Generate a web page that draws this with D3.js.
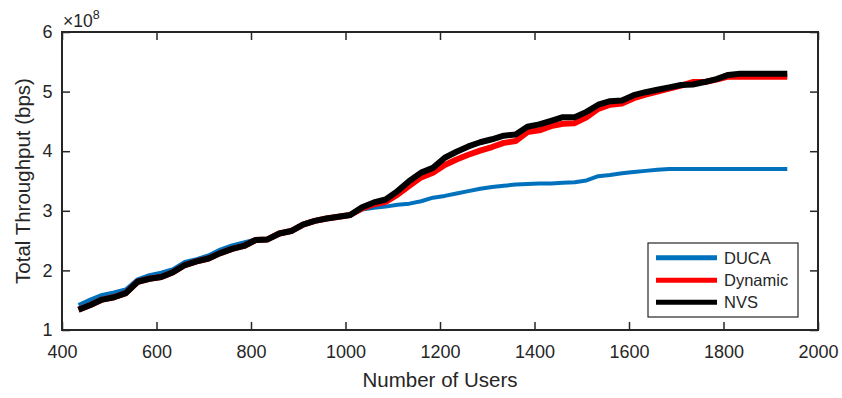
<!DOCTYPE html>
<html>
<head>
<meta charset="utf-8">
<script src="https://cdn.jsdelivr.net/npm/d3@7"></script>
<style>
  html, body { margin: 0; padding: 0; background: #fff; }
  svg { display: block; font-family: "Liberation Sans", Arial, Helvetica, sans-serif; }
</style>
</head>
<body>
<svg id="chart" width="842" height="398"></svg>
<script>
// Number of users (x axis)
const users = [435,460,485,510,535,560,585,610,635,660,685,710,735,760,785,810,835,860,885,910,
  935,960,985,1010,1035,1060,1085,1110,1135,1160,1185,1210,1235,1260,1285,1310,1335,1360,1385,1410,
  1435,1460,1485,1510,1535,1560,1585,1610,1635,1660,1685,1710,1735,1760,1785,1810,1835,1860,1885,1910,1935];

// Total throughput, in units of 1e8 bps
const duca = [1.42,1.51,1.59,1.63,1.68,1.85,1.92,1.96,2.02,2.14,2.19,2.25,2.35,2.42,2.47,2.52,2.53,2.62,2.67,2.77,
  2.83,2.87,2.90,2.93,3.02,3.05,3.07,3.10,3.12,3.16,3.22,3.25,3.29,3.33,3.37,3.40,3.42,3.44,3.45,3.46,
  3.46,3.47,3.48,3.51,3.58,3.60,3.63,3.65,3.67,3.69,3.70,3.70,3.70,3.70,3.70,3.70,3.70,3.70,3.70,3.70,3.70];

const dynamic = [1.34,1.42,1.51,1.55,1.62,1.81,1.86,1.89,1.97,2.09,2.15,2.20,2.29,2.36,2.41,2.51,2.52,2.62,2.66,2.77,
  2.83,2.87,2.90,2.93,3.04,3.11,3.15,3.27,3.42,3.56,3.64,3.77,3.86,3.94,4.01,4.07,4.14,4.17,4.32,4.35,
  4.42,4.46,4.47,4.57,4.71,4.78,4.80,4.89,4.95,5.00,5.05,5.10,5.16,5.16,5.20,5.25,5.25,5.25,5.25,5.25,5.25];

const nvs = [1.34,1.42,1.51,1.55,1.62,1.81,1.86,1.89,1.97,2.09,2.15,2.20,2.29,2.36,2.41,2.51,2.52,2.62,2.66,2.77,
  2.83,2.87,2.90,2.93,3.06,3.14,3.19,3.33,3.50,3.64,3.72,3.89,3.99,4.08,4.15,4.20,4.26,4.28,4.41,4.45,
  4.51,4.57,4.57,4.66,4.78,4.84,4.85,4.94,4.99,5.03,5.07,5.11,5.12,5.16,5.21,5.28,5.30,5.30,5.30,5.30,5.30];

const seriesNames = ["DUCA", "Dynamic", "NVS"];
const xTicks = [400, 600, 800, 1000, 1200, 1400, 1600, 1800, 2000];
const yTicks = [1, 2, 3, 4, 5, 6];

const colors = { DUCA: "#0072BD", Dynamic: "#FF0000", NVS: "#000000" };
const widths = { DUCA: 4, Dynamic: 6, NVS: 6 };
const ink = "#262626";

const svg = d3.select("#chart");
const plotLeft = 62, plotRight = 818, plotTop = 32, plotBottom = 330;

const x = d3.scaleLinear().domain([400, 2000]).range([plotLeft, plotRight]);
const y = d3.scaleLinear().domain([1, 6]).range([plotBottom, plotTop]);

const series = [
  { name: "DUCA", values: duca },
  { name: "Dynamic", values: dynamic },
  { name: "NVS", values: nvs }
];

const line = d3.line()
  .x((d, i) => x(users[i]))
  .y(d => y(d));

// Data lines
const plot = svg.append("g");
series.forEach(s => {
  plot.append("path")
    .datum(s.values)
    .attr("fill", "none")
    .attr("stroke", colors[s.name])
    .attr("stroke-width", widths[s.name])
    .attr("stroke-linejoin", "round")
    .attr("d", line);
});

// Axes (box with inward ticks on all sides)
const tickLen = 8;
const fontTick = 18;
const fmt = d3.format("d");

const xAxis = d3.axisBottom(x).tickValues(xTicks).tickSizeInner(-tickLen).tickSizeOuter(0).tickPadding(15).tickFormat(fmt);
const xAxisTop = d3.axisTop(x).tickValues(xTicks).tickSizeInner(-tickLen).tickSizeOuter(0).tickFormat("");
const yAxis = d3.axisLeft(y).tickValues(yTicks).tickSizeInner(-tickLen).tickSizeOuter(0).tickPadding(9.5).tickFormat(fmt);
const yAxisRight = d3.axisRight(y).tickValues(yTicks).tickSizeInner(-tickLen).tickSizeOuter(0).tickFormat("");

function styleAxis(g) {
  g.select(".domain").remove();
  g.selectAll(".tick line").attr("stroke", ink).attr("stroke-width", 1.5);
  g.selectAll(".tick text").attr("fill", ink).style("font-size", fontTick + "px")
    .style("font-family", "'Liberation Sans', Arial, sans-serif");
}

svg.append("g").attr("transform", `translate(0,${plotBottom})`).call(xAxis).call(styleAxis);
svg.append("g").attr("transform", `translate(0,${plotTop})`).call(xAxisTop).call(styleAxis);
svg.append("g").attr("transform", `translate(${plotLeft},0)`).call(yAxis).call(styleAxis);
svg.append("g").attr("transform", `translate(${plotRight},0)`).call(yAxisRight).call(styleAxis);

// Frame
svg.append("rect")
  .attr("x", plotLeft).attr("y", plotTop)
  .attr("width", plotRight - plotLeft).attr("height", plotBottom - plotTop)
  .attr("fill", "none").attr("stroke", ink).attr("stroke-width", 2);

// Exponent label
const expo = svg.append("text")
  .attr("x", plotLeft + 1).attr("y", 26.5)
  .attr("fill", ink).style("font-size", "17.5px");
expo.append("tspan").text("\u00d710");
expo.append("tspan").attr("dy", -8).style("font-size", "12.5px").text("8");

// Axis titles
svg.append("text")
  .attr("x", (plotLeft + plotRight) / 2).attr("y", 387)
  .attr("text-anchor", "middle").attr("fill", ink)
  .style("font-size", "20.5px").text("Number of Users");

svg.append("text")
  .attr("transform", `translate(29.5,${(plotTop + plotBottom) / 2}) rotate(-90)`)
  .attr("text-anchor", "middle").attr("fill", ink)
  .style("font-size", "20.5px").text("Total Throughput (bps)");

// Legend
const legend = svg.append("g");
legend.append("rect")
  .attr("x", 648).attr("y", 243).attr("width", 150).attr("height", 74)
  .attr("fill", "#fff").attr("stroke", ink).attr("stroke-width", 1.2);
const legendY = [257.7, 280.3, 302.3];
seriesNames.forEach((name, i) => {
  legend.append("line")
    .attr("x1", 656).attr("x2", 717)
    .attr("y1", legendY[i]).attr("y2", legendY[i])
    .attr("stroke", colors[name]).attr("stroke-width", 5);
  legend.append("text")
    .attr("x", 724).attr("y", legendY[i]).attr("dy", "0.36em")
    .attr("fill", ink).style("font-size", "16.5px").text(name);
});
</script>
</body>
</html>
